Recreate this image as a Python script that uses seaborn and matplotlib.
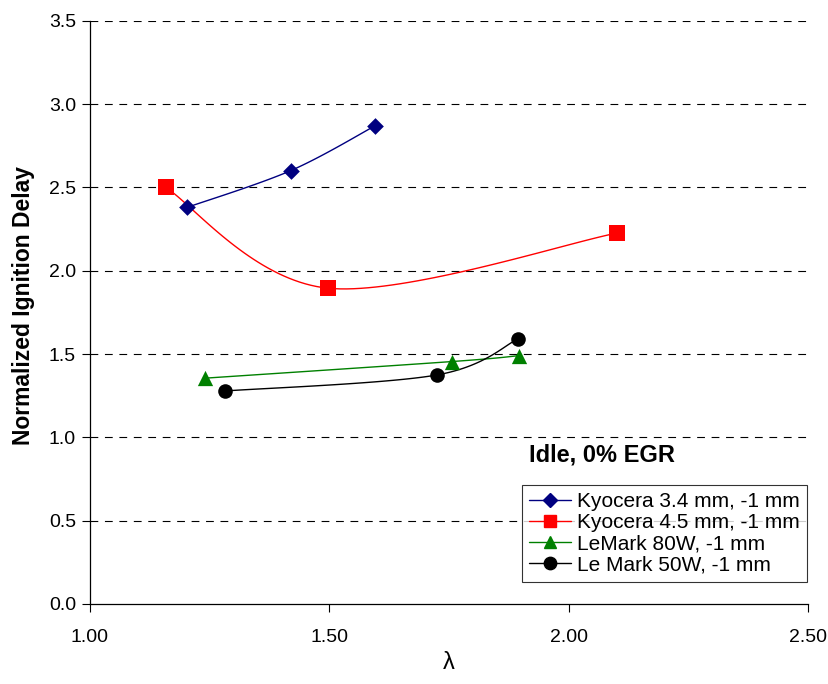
import numpy as np
import pandas as pd
import matplotlib
matplotlib.use("Agg")
import matplotlib.pyplot as plt
import seaborn as sns
from matplotlib.lines import Line2D

# ---- data ----
series_names = ["Kyocera 3.4 mm, -1 mm", "Kyocera 4.5 mm, -1 mm",
                "LeMark 80W, -1 mm", "Le Mark 50W, -1 mm"]
kyo34_x = [1.203, 1.419, 1.596]
kyo34_y = [2.38, 2.60, 2.87]
kyo45_x = [1.158, 1.497, 2.10]
kyo45_y = [2.50, 1.895, 2.225]
lm80_x = [1.240, 1.757, 1.896]
lm80_y = [1.355, 1.455, 1.49]
lm50_x = [1.281, 1.724, 1.894]
lm50_y = [1.278, 1.374, 1.59]
x_ticks = [1.00, 1.50, 2.00, 2.50]
y_ticks = [0.0, 0.5, 1.0, 1.5, 2.0, 2.5, 3.0, 3.5]

colors = ["#000080", "#FF0000", "#008000", "#000000"]
markers = ["D", "s", "^", "o"]
msizes = [8.5, 11, 11, 10.5]

sns.set_theme(style="white")
plt.rcParams["font.family"] = ["Liberation Sans", "DejaVu Sans"]
plt.rcParams["text.color"] = "black"
plt.rcParams["axes.labelcolor"] = "black"
plt.rcParams["xtick.color"] = "black"
plt.rcParams["ytick.color"] = "black"

fig = plt.figure(figsize=(8.29, 6.84), dpi=100)
W, H = 829, 684
left, right, top, bottom = 90, 808, 20.7, 604
ax = fig.add_axes([left / W, (H - bottom) / H, (right - left) / W, (bottom - top) / H])


def smooth(xs, ys, n=40):
    """Excel-style smoothed line (Catmull-Rom Bezier) through the data points."""
    P = np.column_stack([xs, ys]).astype(float)
    out = [P[0]]
    m = len(P)
    for i in range(m - 1):
        p0 = P[i - 1] if i > 0 else P[i]
        p1 = P[i]
        p2 = P[i + 1]
        p3 = P[i + 2] if i + 2 < m else P[i + 1]
        c1 = p1 + (p2 - p0) / 6.0
        c2 = p2 - (p3 - p1) / 6.0
        t = np.linspace(0, 1, n)[1:, None]
        seg = ((1 - t) ** 3) * p1 + 3 * ((1 - t) ** 2) * t * c1 + 3 * (1 - t) * t ** 2 * c2 + t ** 3 * p2
        out.extend(seg)
    out = np.array(out)
    return out[:, 0], out[:, 1]


all_x = [kyo34_x, kyo45_x, lm80_x, lm50_x]
all_y = [kyo34_y, kyo45_y, lm80_y, lm50_y]

ax.set_xlim(1.0, 2.5)
ax.set_ylim(0.0, 3.5)
for yv in y_ticks[1:]:
    ax.axhline(yv, color="black", lw=0.8, ls=(0, (7, 6)), zorder=0.5)

for xs, ys, c, mk, ms, name in zip(all_x, all_y, colors, markers, msizes, series_names):
    sx, sy = smooth(xs, ys)
    ax.plot(sx, sy, color=c, lw=1.0, zorder=2)
    df = pd.DataFrame({"x": xs, "y": ys})
    sns.scatterplot(data=df, x="x", y="y", ax=ax, marker=mk, s=ms ** 2, color=c,
                    edgecolor=c, linewidth=0, zorder=3, legend=False)

ax.set_xticks(x_ticks)
ax.set_xticklabels([f"{v:.2f}" for v in x_ticks], fontsize=14)
ax.set_yticks(y_ticks)
ax.set_yticklabels([f"{v:.1f}" for v in y_ticks], fontsize=14)
ax.tick_params(axis="both", direction="out", length=6, width=0.8, color="black",
               bottom=True, left=True, pad=4)
ax.tick_params(axis="x", pad=12)
for s in ["top", "right"]:
    ax.spines[s].set_visible(False)
for s in ["left", "bottom"]:
    ax.spines[s].set_color("black")
    ax.spines[s].set_linewidth(0.9)

ax.set_xlabel("λ", fontsize=17, labelpad=4)
ax.set_ylabel("Normalized Ignition Delay", fontsize=16.5, fontweight="bold")
ax.yaxis.set_label_coords(-0.076, 0.511)

ax.text(1.9167, 0.894, "Idle, 0% EGR", fontsize=17, fontweight="bold",
        ha="left", va="center")

handles = [Line2D([0], [0], color=c, lw=1.0, marker=mk, markersize=ms * 0.85,
                  markerfacecolor=c, markeredgecolor=c)
           for c, mk, ms in zip(colors, markers, msizes)]
leg = ax.legend(handles, series_names, loc="lower right", bbox_to_anchor=(0.9986, 0.038),
                fontsize=15, frameon=True, fancybox=False, edgecolor="black",
                handlelength=2.0, handletextpad=0.3, borderpad=0.35, labelspacing=0.1,
                borderaxespad=0.0)
leg.get_frame().set_linewidth(0.8)

fig.savefig("out.png", dpi=100)
